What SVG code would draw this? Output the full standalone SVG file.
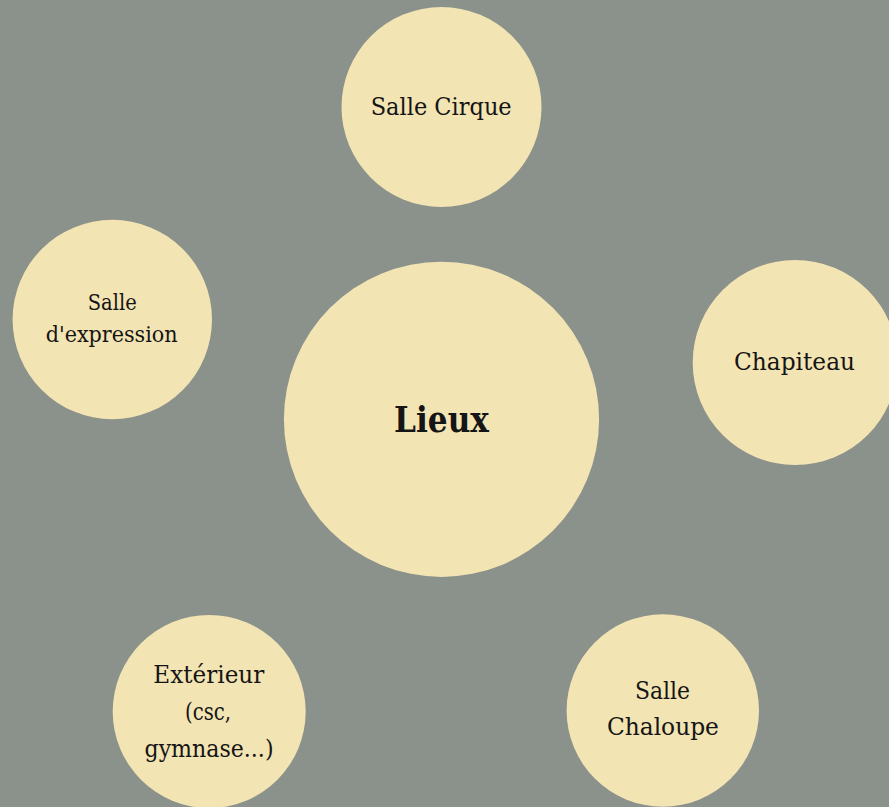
<svg xmlns="http://www.w3.org/2000/svg" width="889" height="807" viewBox="0 0 889 807">
<style>
.node{fill:#f3e4b3}
.lbl{font-family:"DejaVu Serif","Liberation Serif",serif;fill:#151515;text-anchor:middle}
.big{font-weight:bold}
</style>
<rect width="889" height="807" fill="#8b918b"/>
<g id="connectors"></g>
<g id="lieux">
<circle class="node" cx="441.5" cy="419.3" r="157.6"/>
<text class="lbl big" x="441.5" y="431.5" font-size="35" textLength="95" lengthAdjust="spacingAndGlyphs">Lieux</text>
</g>
<g id="salle-cirque">
<circle class="node" cx="441.5" cy="107" r="100"/>
<text class="lbl" x="441.2" y="115" font-size="25" textLength="141" lengthAdjust="spacingAndGlyphs">Salle Cirque</text>
</g>
<g id="salle-expression">
<circle class="node" cx="112.3" cy="319.5" r="99.7"/>
<text class="lbl" x="112.2" y="310" font-size="22" textLength="49" lengthAdjust="spacingAndGlyphs">Salle</text>
<text class="lbl" x="111.7" y="342" font-size="22" textLength="132" lengthAdjust="spacingAndGlyphs">d'expression</text>
</g>
<g id="chapiteau">
<circle class="node" cx="795.2" cy="362.5" r="102.5"/>
<text class="lbl" x="794.5" y="370" font-size="25" textLength="121" lengthAdjust="spacingAndGlyphs">Chapiteau</text>
</g>
<g id="exterieur">
<circle class="node" cx="209.2" cy="711.5" r="96.5"/>
<text class="lbl" x="208.8" y="683" font-size="24" textLength="111" lengthAdjust="spacingAndGlyphs">Extérieur</text>
<text class="lbl" x="208" y="720" font-size="24" textLength="46" lengthAdjust="spacingAndGlyphs">(csc,</text>
<text class="lbl" x="209" y="757" font-size="24" textLength="129" lengthAdjust="spacingAndGlyphs">gymnase...)</text>
</g>
<g id="salle-chaloupe">
<circle class="node" cx="662.8" cy="710.5" r="96.2"/>
<text class="lbl" x="662.5" y="699.3" font-size="24" textLength="55" lengthAdjust="spacingAndGlyphs">Salle</text>
<text class="lbl" x="662.9" y="735" font-size="24" textLength="112" lengthAdjust="spacingAndGlyphs">Chaloupe</text>
</g>
</svg>
